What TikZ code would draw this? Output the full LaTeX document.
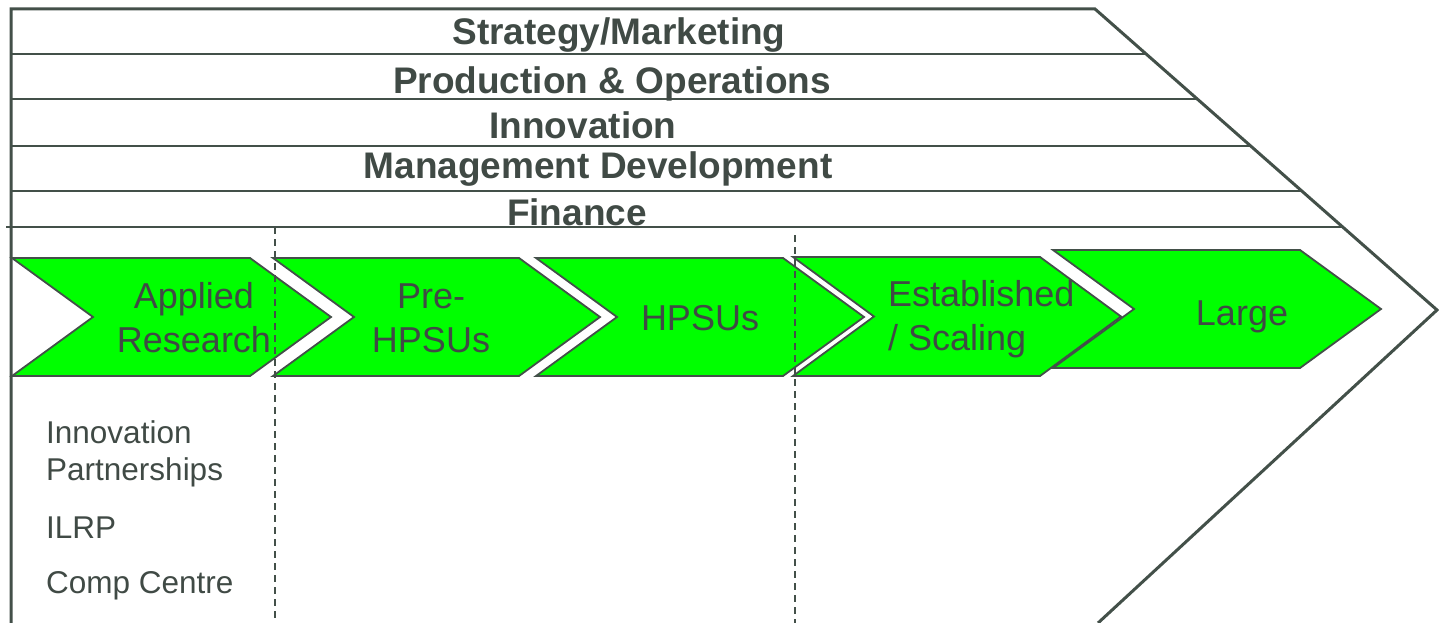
\documentclass[tikz,border=0pt]{standalone}
\usepackage{fontspec}
\setmainfont{Liberation Sans}
\usetikzlibrary{calc}
\definecolor{edge}{RGB}{67,80,73}
\definecolor{txt}{RGB}{64,74,69}
\definecolor{stage}{RGB}{0,255,0}
\begin{document}
\begin{tikzpicture}[x=1pt,y=-1pt,
    band/.style={font=\fontsize{37}{44}\selectfont\bfseries,text=txt,inner sep=0pt,anchor=base},
    stagetext/.style={font=\fontsize{36}{44}\selectfont,text=txt,inner sep=0pt,align=center},
    sidetext/.style={font=\fontsize{31.5}{37}\selectfont,text=txt,inner sep=0pt,align=left,anchor=base west},
    chev/.style={draw=edge,line width=1.8pt,fill=stage,line join=miter},
    divider/.style={draw=edge,line width=1.5pt,dash pattern=on 7pt off 5pt}]
    \useasboundingbox(0,0)rectangle(1439,623);
    % outer arrow
    \coordinate(TL)at(11,9);
    \coordinate(TR)at(1095,9);
    \coordinate(Tip)at(1437,310);
    \coordinate(BR)at(1098,623);
    \draw[edge,line width=3pt,line join=miter](11,623)--(TL)--(TR)--(Tip)--(BR);
    % band separators, ending on the slanted edge
    \foreach \y in {54,99,146,191}
      \draw[edge,line width=2.2pt](12,\y)--({1095+(\y-9)/301*342},\y);
    \draw[edge,line width=2.2pt](6,227)--({1095+(227-9)/301*342},227);
    \node[band](strat)at(619,45){Strategy/Marketing};
    \node[band](prod)at(612,94){Production \& Operations};
    \node[band](innov)at(583,139){Innovation};
    \node[band](mgmt)at(598,178){Management Development};
    \node[band](fin)at(577,225){Finance};
    % stage chevrons
    \foreach \l/\r/\t/\b in {12/250/258/376,273/519/258/376,536/783/258/376,793/1040/257/376,1053/1300/250/368}
      \draw[chev](\l,\t)--(\r,\t)--({\r+81},{(\t+\b)/2})--(\r,\b)--(\l,\b)--({\l+81},{(\t+\b)/2})--cycle;
    % (base of a two-line node = baseline of its last line)
    \node[stagetext,anchor=base](applied)at(194,352){Applied\\Research};
    \node[stagetext,anchor=base](prehpsu)at(431,352){Pre-\\HPSUs};
    \node[stagetext,anchor=base](hpsu)at(700,330){HPSUs};
    \node[stagetext,align=left,anchor=base west](estab)at(888,350){Established\\/ Scaling};
    \node[stagetext,anchor=base](large)at(1242,325){Large};
    % phase dividers
    \draw[divider](275,227)--(275,623);
    \draw[divider](795,235)--(795,623);
    % programmes
    \node[sidetext](partner)at(46,480){Innovation\\Partnerships};
    \node[sidetext](ilrp)at(46,538){ILRP};
    \node[sidetext](comp)at(46,593){Comp Centre};
\end{tikzpicture}
\end{document}
